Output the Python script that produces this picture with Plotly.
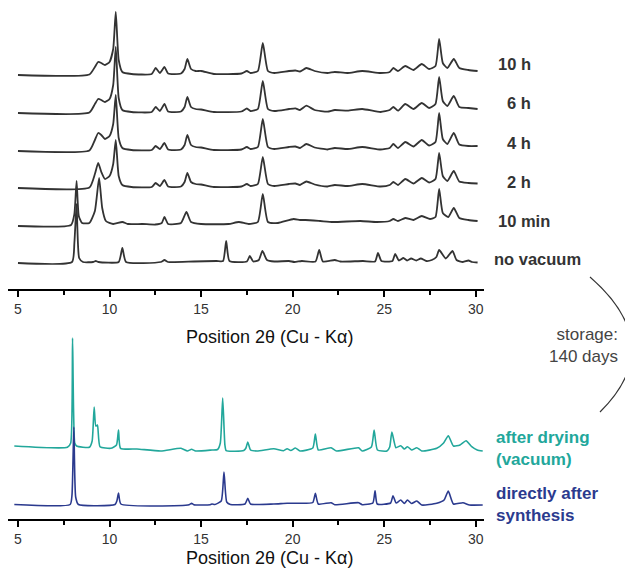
import plotly.graph_objects as go

# The page body has an 8 px margin, so the figure is drawn 8 px in from the corner.
PAGE_W, PAGE_H, BODY = 633, 569, 8
W, H = PAGE_W - BODY, PAGE_H - BODY

# ---------------- data (2theta in degrees, intensity in arbitrary units) ----------------
two_theta_dried = [5.0, 8.9, 9.2, 9.38, 9.55, 9.75, 10.0, 10.2, 10.34, 10.5, 10.7, 11.2, 12.3, 12.52, 12.75,
                   13.0, 13.2, 13.9, 14.1, 14.25, 14.45, 14.7, 15.0, 15.7, 17.2, 17.5, 17.7, 18.1, 18.37,
                   18.65, 19.0, 19.8, 20.15, 20.4, 20.75, 21.2, 21.9, 22.3, 23.0, 23.8, 24.8, 25.3, 25.5,
                   25.75, 26.15, 26.6, 27.05, 27.45, 27.8, 28.0, 28.2, 28.45, 28.8, 29.1, 29.6, 30.1]
intensity_10h = [0, 0.5, 8, 13, 12, 10, 13, 26, 63, 15, 3, 1, 1, 7, 2, 8, 1.5, 1.5, 6, 16, 6, 4, 4, 1, 1.5, 4,
                 2, 4, 32, 4, 2, 4, 4.5, 3.5, 7, 4, 2, 3, 2, 4, 2, 3, 7, 4, 9, 5, 11, 6, 9, 36, 12, 7, 16, 7,
                 5, 4]
intensity_6h = [0, 0.5, 9, 14, 13, 11, 14, 28, 66, 15, 3, 1, 1, 6, 2, 9, 1.5, 1.5, 6, 16, 6, 4, 3.5, 1, 1.5,
                4.5, 2, 4, 32, 4, 2, 4, 4.7, 3, 7.3, 3, 1.3, 3, 2.3, 4, 1, 3, 6, 2.3, 9, 4, 10, 5, 9, 36, 12,
                7, 17, 6, 5, 4]
intensity_4h = [0, 0.5, 11, 18, 16, 12, 15, 27, 56, 13, 3, 1, 1, 5, 2, 8, 1.5, 1.5, 6, 16, 6, 4, 3.5, 1, 1.5,
                4, 2, 4, 32, 4, 2, 4, 4.5, 3, 7, 3.5, 1.5, 3, 2, 4, 1.5, 3, 7, 3, 9, 4.5, 11, 5.5, 9, 38, 12,
                7, 18, 6.5, 5, 5]
intensity_2h = [0, 0.5, 14, 25, 16, 9, 12, 24, 48, 12, 3, 1, 1, 5, 2, 8, 1.5, 1.5, 6, 15, 6, 4, 3.5, 1, 1.5,
                4, 2, 4, 31, 4, 2, 4, 4.5, 3, 6.5, 3.5, 1.5, 3, 2, 4, 1.5, 3, 6, 3, 9, 4.5, 10, 5.5, 9, 35, 12,
                7, 17, 6.5, 5, 4.5]

two_theta_10min = [5.0, 7.9, 8.08, 8.2, 8.32, 8.5, 8.9, 9.2, 9.43, 9.6, 9.8, 10.2, 10.7, 11.0, 11.8, 12.5,
                   12.85, 13.0, 13.2, 13.9, 14.2, 14.45, 15.0, 16.5, 17.06, 17.6, 18.1, 18.37, 18.65, 19.2,
                   20.05, 20.4, 20.7, 21.5, 22.2, 23.7, 24.6, 25.3, 25.5, 25.75, 26.15, 26.6, 27.05, 27.5,
                   27.8, 28.0, 28.2, 28.5, 28.8, 29.1, 29.6, 30.1]
intensity_10min = [0, 1, 12, 45, 10, 3, 3, 15, 48, 18, 5, 2, 4, 2, 2, 1.5, 3, 9, 2, 3, 14, 4, 2, 2, 4, 2, 4,
                   32, 4, 3, 7, 6, 6, 5, 4, 5, 4, 5, 7, 5, 8, 6, 10, 7, 9, 37, 13, 9, 18, 8, 6, 5]

two_theta_novac = [5.0, 7.95, 8.08, 8.2, 8.34, 8.55, 9.1, 9.25, 9.4, 10.5, 10.7, 10.9, 12.8, 13.0, 13.2,
                   14.6, 15.83, 16.2, 16.37, 16.55, 17.5, 17.66, 17.85, 18.15, 18.35, 18.6, 19.0, 19.8,
                   20.1, 20.5, 21.25, 21.45, 21.65, 22.3, 22.6, 23.84, 24.5, 24.66, 24.85, 25.45, 25.6,
                   25.8, 26.05, 26.25, 26.47, 26.75, 27.0, 27.3, 27.6, 27.85, 28.0, 28.36, 28.73, 28.95,
                   29.3, 29.6, 29.8, 30.1]
intensity_novac = [0, 1, 20, 59, 5, 1, 1, 2, 1, 1, 15, 1, 1, 3, 1, 1.5, 2, 2, 22, 2, 1.5, 7, 1.5, 3, 12, 3,
                   1.5, 2, 1, 2, 1.5, 13, 1.5, 3, 1.5, 2, 1.5, 10, 2, 2, 9, 2.5, 5, 2.5, 4.5, 2.5, 4.5, 2,
                   3, 6, 13, 4.5, 12, 3, 1, 2.5, 1, 0.5]

two_theta_dry = [4.8, 7.7, 7.88, 7.98, 8.1, 8.2, 8.9, 9.05, 9.16, 9.25, 9.34, 9.48, 10.07, 10.38, 10.49,
                 10.6, 11.5, 12.8, 13.9, 14.25, 14.48, 14.7, 15.6, 15.9, 16.05, 16.18, 16.3, 16.37, 17.33,
                 17.45, 17.55, 17.7, 18.06, 18.97, 19.5, 19.7, 19.9, 20.15, 20.4, 21.1, 21.24, 21.4, 22.1,
                 22.4, 23.6, 23.8, 24.3, 24.45, 24.63, 25.15, 25.3, 25.42, 25.64, 25.9, 26.1, 26.27, 26.5,
                 26.78, 27.05, 27.87, 28.23, 28.5, 28.78, 29.14, 29.47, 29.78, 30.08, 30.38]
intensity_dry = [5, 3.7, 8, 113, 8, 5, 3.7, 10, 44, 25, 26, 4.3, 2.7, 6, 21, 2.7, 2, 0, 2.7, 0, 1.7, 0, 1,
                 1.5, 8, 53, 6, 0.3, 0.5, 3, 9, 1, 0, 2.3, 0.3, 2.3, 0.5, 3, 0, 3, 17, 1, 3.3, 0, 3.3, 0, 4,
                 21, 1, 0, 4, 19, 3.3, 5.3, 2, 4.3, 1, 3.3, 0, 2.7, 7.7, 15.3, 5, 6, 10.3, 4.3, 1, 0]

two_theta_synth = [4.8, 7.85, 7.95, 8.05, 8.15, 8.3, 10.3, 10.4, 10.49, 10.62, 14.35, 14.48, 14.6, 15.5,
                   15.6, 15.75, 16.1, 16.25, 16.4, 16.6, 17.4, 17.55, 17.7, 18.97, 19.7, 20.25, 21.1, 21.24,
                   21.4, 22.1, 22.3, 23.6, 23.8, 24.38, 24.5, 24.62, 25.35, 25.48, 25.65, 25.9, 26.1, 26.27,
                   26.5, 26.78, 27.05, 27.87, 28.27, 28.5, 28.78, 29.3, 29.66, 30.38]
intensity_synth = [0.5, 0.5, 10, 78, 8, 0.5, 0.5, 4, 12, 1, 0.3, 1.7, 0.3, 0.3, 1, 0.5, 4, 33, 3, 0.5, 1,
                   6.7, 1, 1, 1.7, 1.7, 2.5, 11.7, 1, 2.3, 0.3, 2.3, 0.3, 2, 14.3, 1, 2, 9.3, 2, 5, 1.5, 5,
                   1.5, 4, 0, 1.7, 5, 14, 1, 2.3, 0, 0]

tick_values = [5, 10, 15, 20, 25, 30]
tick_labels = ["5", "10", "15", "20", "25", "30"]
top_labels = ["10 h", "6 h", "4 h", "2 h", "10 min", "no vacuum"]

# ---------------- styling / layout ----------------
GREY = "#333333"
TEAL = "#22a79b"
NAVY = "#2b3a8e"
FONT = "Liberation Sans, Arial, sans-serif"

def px(x):
    """page pixel x (reference image) -> paper fraction"""
    return (x - BODY) / W

def py(y):
    """page pixel y (reference image) -> paper fraction"""
    return 1 - (y - BODY) / H

top_series = [
    (two_theta_dried, intensity_10h, 214),
    (two_theta_dried, intensity_6h, 176),
    (two_theta_dried, intensity_4h, 138),
    (two_theta_dried, intensity_2h, 101),
    (two_theta_10min, intensity_10min, 63),
    (two_theta_novac, intensity_novac, 26),
]

fig = go.Figure()
for (xs, ys, off) in top_series:
    fig.add_trace(go.Scatter(x=xs, y=[v + off for v in ys], mode="lines",
                             line=dict(color=GREY, width=1.8, shape="spline", smoothing=0.5),
                             xaxis="x", yaxis="y", showlegend=False, hoverinfo="skip"))

fig.add_trace(go.Scatter(x=two_theta_dry, y=[v + 68 for v in intensity_dry], mode="lines",
                         line=dict(color=TEAL, width=1.6, shape="spline", smoothing=0.5),
                         xaxis="x2", yaxis="y2", showlegend=False, hoverinfo="skip"))
fig.add_trace(go.Scatter(x=two_theta_synth, y=[v + 14 for v in intensity_synth], mode="lines",
                         line=dict(color=NAVY, width=1.6, shape="spline", smoothing=0.5),
                         xaxis="x2", yaxis="y2", showlegend=False, hoverinfo="skip"))

xrange = [4.455, 30.45]
xdom = [max(px(7), 0), px(484)]

def xaxis_style(anchor):
    return dict(domain=xdom, range=xrange, anchor=anchor, showline=True, linewidth=2,
                linecolor="black", ticks="outside", ticklen=6, tickwidth=1.5, tickcolor="black",
                tickvals=tick_values, ticktext=tick_labels, showgrid=False, zeroline=False,
                tickfont=dict(family=FONT, size=14, color=GREY),
                minor=dict(tickvals=[7.5, 12.5, 17.5, 22.5, 27.5], ticks="outside", ticklen=4,
                           tickwidth=1.5, tickcolor="black", showgrid=False))

fig.update_layout(
    width=W, height=H,
    margin=dict(l=0, r=0, t=0, b=0),
    paper_bgcolor="white", plot_bgcolor="white",
    xaxis=xaxis_style("y"),
    xaxis2=xaxis_style("y2"),
    yaxis=dict(domain=[py(289), 1.0], range=[0, 289 - BODY], visible=False, fixedrange=True),
    yaxis2=dict(domain=[py(519), py(330)], range=[0, 189], visible=False, fixedrange=True),
)

annotations = []
label_pos = [(496, 64), (505, 103), (505, 143), (505, 182), (496, 221), (492, 259)]
for text, (lx, ly) in zip(top_labels, label_pos):
    annotations.append(dict(text="<b>%s</b>" % text, x=px(lx), y=py(ly), xref="paper", yref="paper",
                            xanchor="left", yanchor="middle", showarrow=False,
                            font=dict(family=FONT, size=16.5, color=GREY)))
annotations.append(dict(text="<b>after drying<br>(vacuum)</b>", x=px(494), y=py(448), xref="paper",
                        yref="paper", xanchor="left", yanchor="middle", showarrow=False, align="left",
                        font=dict(family=FONT, size=17, color=TEAL)))
annotations.append(dict(text="<b>directly after<br>synthesis</b>", x=px(494), y=py(504), xref="paper",
                        yref="paper", xanchor="left", yanchor="middle", showarrow=False, align="left",
                        font=dict(family=FONT, size=17, color=NAVY)))
annotations.append(dict(text="storage:<br>140 days", x=px(620), y=py(345), xref="paper", yref="paper",
                        xanchor="right", yanchor="middle", showarrow=False, align="right",
                        font=dict(family=FONT, size=17, color="#444444")))
for ty in (337, 558):
    annotations.append(dict(text="Position 2θ (Cu - Kα)", x=px(269), y=py(ty), xref="paper", yref="paper",
                            xanchor="center", yanchor="middle", showarrow=False,
                            font=dict(family=FONT, size=18, color="#111111")))
fig.update_layout(annotations=annotations)

arc = "M %f,%f Q %f,%f %f,%f" % (px(590), py(277), px(668), py(345), px(600), py(412))
fig.add_shape(type="path", path=arc, xref="paper", yref="paper",
              line=dict(color="#333333", width=1.2))

fig.write_html("out.html")
